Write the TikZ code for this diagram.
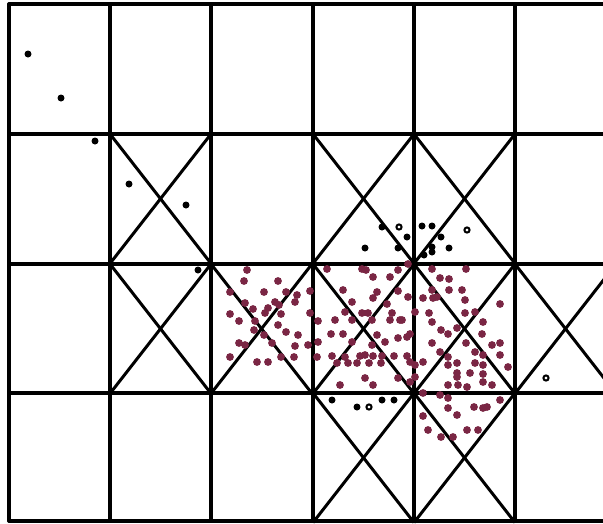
\documentclass[tikz,border=0pt]{standalone}
\definecolor{maroon}{RGB}{122,38,68}
\begin{document}
\begin{tikzpicture}[x=1pt,y=-1pt,
  gridline/.style={line width=3.4pt,black,line cap=round},
  diag/.style={line width=3pt,black},
  mdot/.style={fill=maroon},
  bdot/.style={fill=black},
  hdot/.style={draw=black,line width=2pt,fill=white}]
\useasboundingbox (0,0) rectangle (603,523);
\fill[white] (0,0) rectangle (603,523);
\begin{scope}
\clip (0,0) rectangle (603,523);
% X crosses
\foreach \cx/\cy in {110/134,313/134,414/134,
  110/264,211/264,313/264,414/264,515/264,
  313/393,414/393}{
  \draw[diag] (\cx,\cy) -- ++(101,129.5);
  \draw[diag] (\cx,\cy+129.5) -- ++(101,-129.5);
}
% grid
\foreach \gx in {9,110,211,313,414,515}
  \draw[gridline] (\gx,4) -- (\gx,521);
\foreach \gy in {4,134,264,393,521}
  \draw[gridline] (9,\gy) -- (610,\gy);
\end{scope}
% maroon dots
\foreach \px/\py in {247/270,244/281,278/281,230/292,264/292,286/292,297/295,310/291,245/303,275/302,279/305,295/302,253/309,268/308,265/313,230/314,281/314,310/313,239/321,255/321,278/325,318/321,264/335,286/332,298/335,254/330,239/343,245/345,272/343,295/346,308/345,318/342,230/357,281/357,294/357,317/357,257/362,268/362,
327/269,362/269,366/270,398/270,408/264,373/277,390/277,343/290,377/292,373/298,398/291,408/297,352/302,387/304,345/312,362/313,368/313,392/313,335/320,352/320,372/320,390/320,402/320,331/334,343/334,377/335,398/338,410/334,352/342,372/345,385/342,332/356,345/357,360/356,365/355,373/356,382/356,394/356,407/356,337/363,348/363,357/363,369/363,381/363,365/378,340/385,373/385,398/378,410/382,415/365,415/377,
432/269,466/269,440/278,449/279,432/290,449/290,462/290,423/298,433/298,437/297,465/300,500/304,429/313,465/313,475/312,415/312,432/322,483/322,457/328,441/330,448/334,482/334,432/343,466/343,492/345,500/343,440/352,475/352,483/355,500/355,448/357,457/363,423/362,410/362,448/365,475/363,483/365,508/367,457/373,470/373,483/374,457/377,448/385,458/385,467/387,483/382,492/385,423/393,440/395,448/398,448/408,474/407,483/408,487/407,500/400,423/416,457/415,428/430,467/430,478/430,441/437,453/437,400/320,407/337}
  \fill[mdot] (\px,\py) circle (3.9);
% black dots
\foreach \px/\py in {28/54,61/98,95/141,129/184,186/205,198/270,382/227,422/226,432/226,407/237,365/248,398/248,441/237,432/247,449/248,424/255,432/252,332/400,357/407,382/400,394/400}
  \fill[bdot] (\px,\py) circle (3.5);
% hollow dots
\foreach \px/\py in {399/227,467/230,369/407,546/378}
  \draw[hdot] (\px,\py) circle (2.6);
\end{tikzpicture}
\end{document}
